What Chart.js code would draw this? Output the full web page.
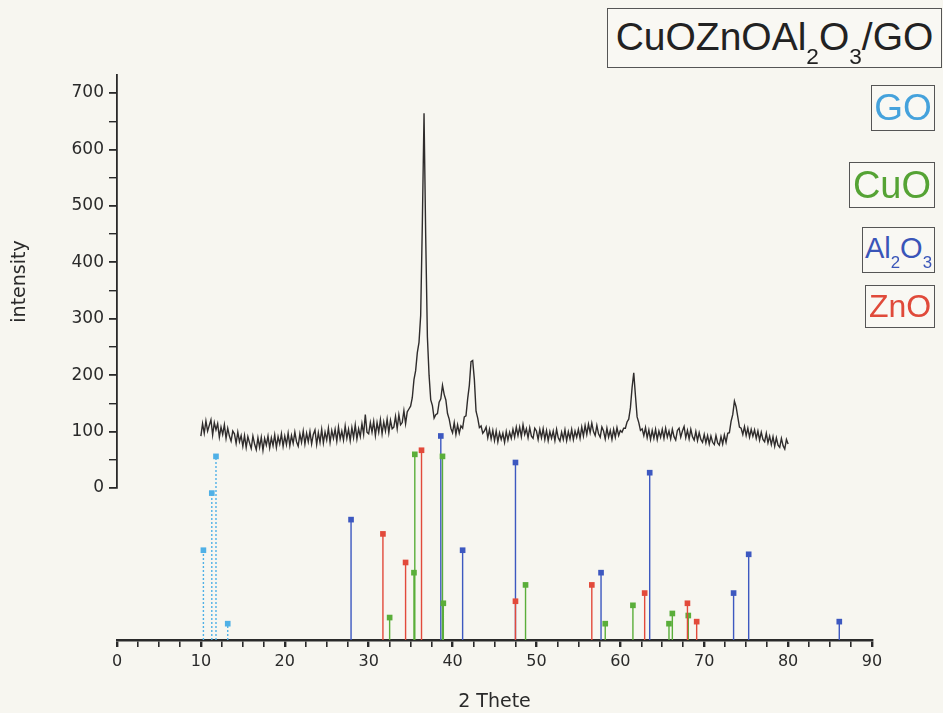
<!DOCTYPE html>
<html>
<head>
<meta charset="utf-8">
<script src="https://cdn.jsdelivr.net/npm/chart.js@4.4.1/dist/chart.umd.min.js"></script>
<style>
  html, body { margin: 0; padding: 0; background: #f7f6f0; }
  #wrap { position: relative; width: 943px; height: 713px; }
  canvas { position: absolute; left: 0; top: 0; }
  .box {
    position: absolute; box-sizing: border-box; border: 1.5px solid #555;
    font-family: "Liberation Sans", Arial, sans-serif; text-align: center; white-space: nowrap;
    background: #f9f8f3;
  }
  .s { font-size: 0.58em; position: relative; top: 0.62em; }
</style>
</head>
<body>
<div id="wrap">
  <canvas id="myChart" width="943" height="713"></canvas>
  <div class="box" style="left:607px;top:8px;width:335px;height:60px;line-height:56px;font-size:39px;color:#222;">CuOZnOAl<span class="s">2</span>O<span class="s">3</span>/GO</div>
  <div class="box" style="left:871px;top:85px;width:64px;height:46px;line-height:44px;font-size:37px;color:#45a2dc;">GO</div>
  <div class="box" style="left:849px;top:162px;width:86px;height:46px;line-height:44px;font-size:38px;color:#55a334;">CuO</div>
  <div class="box" style="left:862px;top:227px;width:73px;height:46px;line-height:40px;font-size:29px;color:#3a55b8;">Al<span class="s">2</span>O<span class="s">3</span></div>
  <div class="box" style="left:865px;top:285px;width:70px;height:43px;line-height:41px;font-size:32px;color:#e04a3a;">ZnO</div>
</div>
<script>
// measured pattern, 2 theta from 10 to 80 every 0.2
const thetaStart = 10;
const thetaStep  = 0.2;
const intensity = [
  92, 114, 97, 119, 101,   111, 121, 94, 116, 103,   114, 90, 108, 95, 112,   88, 106, 92, 83, 101,
  96, 79, 99, 82, 93,      74, 93, 72, 91, 80,       70, 92, 78, 68, 89,      72, 90, 67, 88, 76,
  92, 71, 89, 75, 94,      72, 91, 78, 96, 74,       92, 77, 97, 75, 93,      79, 99, 82, 74, 96,
  81, 101, 78, 97, 82,     100, 78, 95, 103, 77,     98, 81, 104, 80, 99,     85, 106, 81, 102, 88,
  104, 83, 108, 87, 101,   85, 110, 88, 104, 84,     107, 89, 112, 87, 105,   91, 114, 95, 130, 99,
  96, 116, 99, 118, 93,    116, 99, 121, 96, 117,    101, 122, 98, 120, 105,  108, 127, 105, 130, 112,
  116, 137, 114, 135, 140, 145, 160, 192, 208, 240,  258, 306, 470, 664, 445,  268, 200, 156, 146, 124,
  130, 132, 152, 158, 182, 166, 156, 132, 122, 106,  98, 116, 95, 112, 97,     110, 106, 126, 128, 158,
  182, 224, 226, 192, 136, 124, 107, 110, 97, 101,   108, 89, 104, 87, 102,   84, 101, 82, 98, 86,
  97, 81, 100, 85, 99,     88, 104, 90, 108, 93,     108, 91, 112, 95, 105,   89, 107, 92, 88, 106,
  101, 86, 104, 89, 105,   86, 102, 84, 100, 88,     101, 84, 104, 89, 83,    99, 86, 103, 84, 100,
  87, 104, 86, 101, 90,    104, 88, 108, 92, 111,    95, 113, 98, 115, 100,   93, 111, 96, 90, 108,
  101, 87, 106, 90, 102,   86, 104, 90, 107, 93,     102, 99, 106, 106, 117,  122, 142, 178, 204, 164,
  126, 116, 102, 105, 93,  107, 89, 103, 86, 102,    88, 104, 86, 101, 90,    104, 88, 106, 90, 101,
  87, 104, 91, 85, 102,    106, 90, 101, 109, 89,    102, 87, 104, 91, 85,    100, 84, 98, 86, 81,
  95, 80, 93, 78, 92,      81, 77, 93, 80, 76,       91, 78, 94, 81, 97,      98, 118, 130, 154, 144,
  126, 108, 106, 95, 109,  93, 106, 90, 104, 92,     103, 88, 101, 85, 99,    86, 82, 97, 80, 92,
  77, 91, 74, 89, 76,      72, 88, 75, 69, 86,       78
];

// reference peaks (2 theta) and relative heights
const goPos   = [10.3, 11.3, 11.8, 13.2];
const goRel   = [44, 72, 90, 8];
const cuoPos  = [32.5, 35.4, 35.5, 38.8, 38.9, 48.7, 58.2, 61.5, 65.8, 66.2, 68.1];
const cuoRel  = [11, 33, 91, 90, 18, 27, 8, 17, 8, 13, 12];
const alPos   = [27.9, 38.6, 41.2, 47.5, 57.7, 63.5, 73.5, 75.3, 86.1];
const alRel   = [59, 100, 44, 87, 33, 82, 23, 42, 9];
const znoPos  = [31.7, 34.4, 36.3, 47.5, 56.6, 62.9, 68.0, 69.1];
const znoRel  = [52, 38, 93, 19, 27, 23, 18, 9];

const xTickLabels = [0, 10, 20, 30, 40, 50, 60, 70, 80, 90];
const yTickLabels = [0, 100, 200, 300, 400, 500, 600, 700];

const FONT = "'DejaVu Sans', sans-serif";
const INK = '#2a2a2a';

function sticks(pos, rel) {
  const out = [];
  pos.forEach((p, i) => {
    out.push({x: p, y: 0}, {x: p, y: rel[i]}, {x: p, y: null});
  });
  return out;
}

function stickSet(label, pos, rel, color, dash) {
  return {
    label: label,
    data: sticks(pos, rel),
    yAxisID: 'y2',
    borderColor: color,
    backgroundColor: color,
    borderWidth: 1.4,
    borderDash: dash,
    spanGaps: false,
    pointStyle: 'rect',
    pointRadius: ctx => ctx.dataIndex % 3 === 1 ? 4 : 0,
    pointHoverRadius: 0,
    pointBorderWidth: 0,
    clip: false
  };
}

const bg = {
  id: 'bg',
  beforeDraw(chart) {
    const c = chart.ctx;
    c.save();
    c.fillStyle = '#f7f6f0';
    c.fillRect(0, 0, chart.width, chart.height);
    c.restore();
  }
};

let ctx = document.getElementById('myChart').getContext('2d');
let myChart = new Chart(ctx, {
  type: 'line',
  data: {
    datasets: [
      {
        label: 'CuOZnOAl2O3/GO',
        data: intensity.map((v, i) => ({x: +(thetaStart + i * thetaStep).toFixed(1), y: v})),
        yAxisID: 'y',
        borderColor: '#2f2c2c',
        borderWidth: 1.4,
        pointRadius: 0,
        tension: 0
      },
      stickSet('GO', goPos, goRel, '#4fb0e6', [2, 2]),
      stickSet('ZnO', znoPos, znoRel, '#e24a3b', []),
      stickSet('CuO', cuoPos, cuoRel, '#5aae3a', []),
      stickSet('Al2O3', alPos, alRel, '#3d58c0', [])
    ]
  },
  plugins: [bg],
  options: {
    responsive: false,
    animation: false,
    devicePixelRatio: 1,
    layout: { padding: { left: 0, right: 71, top: 75, bottom: 0 } },
    plugins: { legend: { display: false }, tooltip: { enabled: false } },
    scales: {
      x: {
        type: 'linear',
        position: 'bottom',
        min: 0,
        max: 90,
        afterBuildTicks: s => {
          const t = [];
          for (let v = 0; v <= 90; v += 2.5) t.push({value: v});
          s.ticks = t;
        },
        ticks: {
          autoSkip: false,
          maxRotation: 0,
          padding: 5,
          color: INK,
          font: { family: FONT, size: 16 },
          callback: v => xTickLabels.includes(v) ? v : ''
        },
        grid: {
          drawOnChartArea: false,
          tickLength: 7,
          tickColor: INK,
          lineWidth: c => (c.tick && c.tick.value % 10 === 0) ? 2.4 : 1.6
        },
        border: { color: INK, width: 2.6 },
        title: { display: true, text: '2 Thete', color: INK, font: { family: FONT, size: 19 }, padding: { top: 5, bottom: 0 } },
        afterFit: s => { s.height = 73; }
      },
      y: {
        stack: 'v',
        stackWeight: 413,
        weight: 1,
        position: 'left',
        min: 0,
        max: 732,
        afterBuildTicks: s => {
          const t = [];
          for (let v = 0; v <= 700; v += 50) t.push({value: v});
          s.ticks = t;
        },
        ticks: {
          autoSkip: false,
          padding: 5,
          color: INK,
          font: { family: FONT, size: 17 },
          callback: v => yTickLabels.includes(v) ? v : ''
        },
        grid: {
          drawOnChartArea: false,
          tickLength: 8,
          tickColor: INK,
          lineWidth: c => (c.tick && c.tick.value % 100 === 0) ? 1.8 : 1.4
        },
        border: { color: INK, width: 1.8 },
        title: { display: true, text: 'intensity', color: INK, font: { family: FONT, size: 19 }, padding: { top: 9, bottom: 0 } },
        afterFit: s => { s.width = 117; }
      },
      y2: {
        stack: 'v',
        stackWeight: 152,
        weight: 0,
        position: 'left',
        min: 0,
        max: 74.5,
        ticks: { display: false },
        grid: { display: false },
        border: { display: false },
        afterFit: s => { s.width = 117; }
      }
    }
  }
});
</script>
</body>
</html>
